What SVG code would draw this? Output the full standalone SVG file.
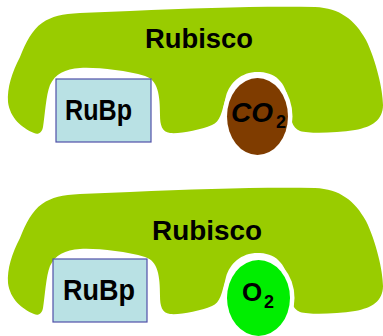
<svg xmlns="http://www.w3.org/2000/svg" xmlns:xlink="http://www.w3.org/1999/xlink" width="383" height="336" viewBox="0 0 383 336">
  <style>
    .enzyme { fill: #99cc00; }
    .halo { fill: #ffffff; }
    .substrate { fill: #b9e1e4; stroke: #5050a8; stroke-width: 1.2; }
    .label { font-family: "Liberation Sans", Arial, sans-serif; font-weight: bold; fill: #000000; }
    .co2 { fill: #7f3c00; }
    .o2 { fill: #00ee00; }
  </style>
  <defs>
    <!-- Rubisco body outline with the two binding pockets -->
    <path id="rubiscoBody" d="M 20,57 C 26,42 32,30 42,23 C 52,16 62,14 80,13 L 130,11 C 200,8 260,6 315,7 C 340,8 355,20 366,40 C 376,60 383,90 383,105 C 383,120 372,127 355,130 C 335,133 310,134 300,131 C 292,128 290,118 289,105 C 287,85 278,73 260,72 C 242,71 230,82 226,96 C 222,112 220,122 212,125 C 200,130 180,134 170,133 C 162,132 160,125 160,115 C 160,95 158,80 145,76 C 125,70 95,67 80,68 C 65,69 55,74 50,85 C 46,95 45,115 43,127 C 42,133 38,135 34,133 C 22,128 10,118 8,102 C 7,88 12,72 20,57 Z"/>
  </defs>

  <!-- Carboxylation: Rubisco + RuBp + CO2 -->
  <g id="rubisco-top">
    <use xlink:href="#rubiscoBody" class="enzyme"/>
    <text class="label" x="145" y="48" font-size="27" textLength="108" lengthAdjust="spacingAndGlyphs">Rubisco</text>
  </g>
  <g id="rubp-top">
    <rect class="substrate" x="56" y="79" width="95" height="63"/>
    <text class="label" x="65" y="120" font-size="29" textLength="67" lengthAdjust="spacingAndGlyphs">RuBp</text>
  </g>
  <g id="co2">
    <ellipse class="halo" cx="257.5" cy="116.5" rx="35" ry="43"/>
    <ellipse class="co2" cx="257.5" cy="116.5" rx="30.5" ry="38.5"/>
    <text class="label" x="231" y="122" font-size="28" font-style="italic">CO</text>
    <text class="label" x="276" y="128" font-size="18">2</text>
  </g>

  <!-- Oxygenation: Rubisco + RuBp + O2 -->
  <g id="rubisco-bottom">
    <use xlink:href="#rubiscoBody" class="enzyme" transform="translate(0,181)"/>
    <text class="label" x="152" y="240" font-size="27" textLength="110" lengthAdjust="spacingAndGlyphs">Rubisco</text>
  </g>
  <g id="rubp-bottom">
    <rect class="substrate" x="53" y="259" width="94" height="63"/>
    <text class="label" x="63" y="300" font-size="29" textLength="72" lengthAdjust="spacingAndGlyphs">RuBp</text>
  </g>
  <g id="o2">
    <ellipse class="halo" cx="258.5" cy="298" rx="36" ry="42.5"/>
    <ellipse class="o2" cx="258.5" cy="298" rx="31.5" ry="38"/>
    <text class="label" x="242" y="301" font-size="26">O</text>
    <text class="label" x="264" y="308" font-size="18">2</text>
  </g>

  <g id="connectors"/>
</svg>
